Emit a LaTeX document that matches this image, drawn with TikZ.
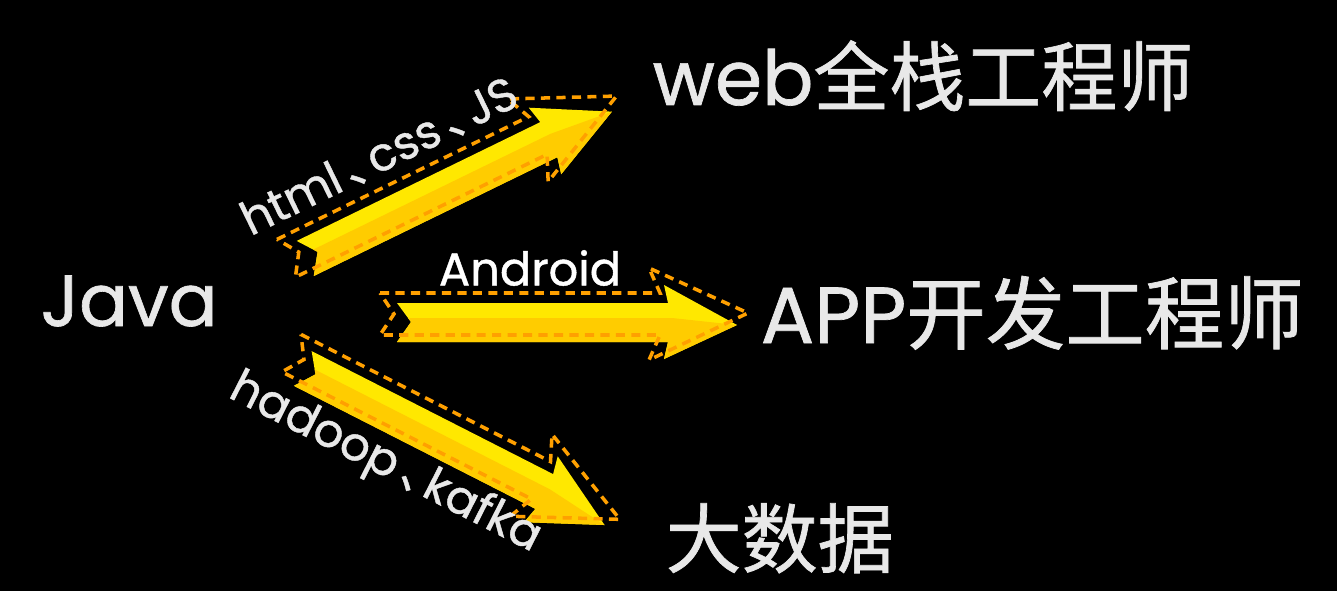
\documentclass[tikz,border=0pt]{standalone}
\usepackage{fontspec}
\setmainfont{Poppins}[FakeBold=0.9]
\newfontfamily\cjk{Noto Sans CJK SC}[FakeBold=0.9]
\usepackage{tikz}
\definecolor{ylight}{RGB}{255,232,0}
\definecolor{ydark}{RGB}{255,204,0}
\definecolor{dashorange}{RGB}{255,160,0}
\definecolor{textgrey}{RGB}{232,232,232}
\def\fillbody{(0,-19) -- (271,-19) -- (267,-37) -- (340,3) -- (267,37) -- (271,20) -- (0,20) -- (14,0) -- cycle}
\def\lowerhalf{(11,-4) -- (275,-4) -- (340,3) -- (267,37) -- (271,20) -- (0,20) -- (14,0) -- cycle}
\def\dashbody{(-17,-29) -- (263,-29) -- (252,-54) -- (351,-9) -- (252,38) -- (263,13) -- (-17,13) -- (-3,-8) -- cycle}
\def\dorange{\draw[dashorange,line width=1pt,dash pattern=on 2.6pt off 1.8pt,line join=miter]}
\def\yarrow#1#2{\begin{scope}[shift={#1},rotate=#2]
  \fill[ylight] \fillbody; \fill[ydark] \lowerhalf; \dorange \dashbody;
\end{scope}}
\def\dun{\kern0.14em{\cjk 、}\kern-0.42em}

\begin{document}
\begin{tikzpicture}[x=0.01cm,y=-0.01cm,
    biglabel/.style={text=textgrey,inner sep=0pt,font=\fontsize{21.6pt}{26pt}\selectfont},
    skill/.style={text=textgrey,inner sep=0pt,font=\fontsize{13.2pt}{16pt}\selectfont}]
  \useasboundingbox (0,0) rectangle (1337,591);
  \fill[black] (0,0) rectangle (1337,591);
  % arrows
  \yarrow{(305,258)}{26}
  \yarrow{(397,322)}{0}
  \yarrow{(303,368)}{-27}
  % labels
  \node[biglabel,anchor=base west,font=\fontsize{20.6pt}{25pt}\selectfont] (java) at (40,326) {Java};
  \node[biglabel,anchor=base west] (web) at (652,105) {web{\cjk 全栈工程师}};
  \node[biglabel,anchor=base west,font=\fontsize{22.6pt}{27pt}\selectfont] (app) at (760,343) {APP{\cjk 开发工程师}};
  \node[biglabel,anchor=base west] (bigdata) at (665,567) {{\cjk 大数据}};
  \node[skill,rotate=26] (webskill) at (379,156) {html\dun css\dun JS};
  \node[skill,text=white] (appskill) at (530,268) {Android};
  \node[skill,rotate=-27] (dataskill) at (385,464) {hadoop\dun kafka};
\end{tikzpicture}
\end{document}
